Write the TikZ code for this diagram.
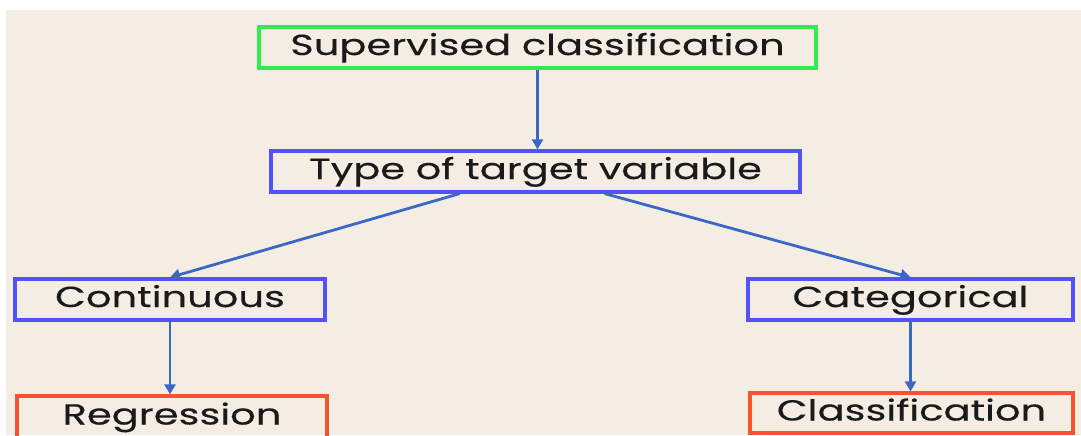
\documentclass[tikz,border=0pt]{standalone}
\usepackage{fontspec}
\setmainfont[FakeStretch=1.38,FakeBold=0.3]{Poppins}
\usetikzlibrary{arrows.meta,calc}
\definecolor{bgbeige}{HTML}{F4EDE4}
\definecolor{boxgreen}{HTML}{33EA4F}
\definecolor{boxblue}{HTML}{5252F8}
\definecolor{boxred}{HTML}{F8532F}
\definecolor{arrowblue}{HTML}{3B68C4}
\definecolor{txt}{HTML}{1A1A1A}
\tikzset{
  box/.style={draw,line width=1.6pt,text=txt,font=\fontsize{14.5}{17}\selectfont,
    minimum height=20.5pt,inner sep=0pt,text height=10.5pt,text depth=3pt},
  arr/.style={arrowblue,line width=1.4pt,-{Triangle[width=5.5pt,length=5pt]}}
}
\begin{document}
\begin{tikzpicture}[x=0.5pt,y=-0.5pt]
% page and background
\useasboundingbox (0,0) rectangle (1081,435);
\fill[white] (0,0) rectangle (1081,435);
\fill[bgbeige] (6,10) rectangle (1081,435);
% boxes
\node[box,draw=boxgreen,minimum width=278.5pt] (sup) at (537.5,47.5) {Supervised classification};
\node[box,draw=boxblue,minimum width=264.5pt] (type) at (535.5,171.5) {Type of target variable};
\node[box,draw=boxblue,minimum width=155pt] (cont) at (170,299.5) {Continuous};
\node[box,draw=boxblue,minimum width=162.5pt] (cat) at (910.5,299.5) {Categorical};
\node[box,draw=boxred,minimum width=155pt,minimum height=21pt] (reg) at (172,417) {Regression};
\node[box,draw=boxred,minimum width=161.5pt,minimum height=20pt] (cls) at (911.5,413) {Classification};
% arrows
\draw[arr] (sup.south) -- (sup.south |- type.north);
\draw[arr] ($(type.south)!0.285!(type.south west)$) -- (cont.north);
\draw[arr] ($(type.south)!0.26!(type.south east)$) -- (cat.north);
\draw[arr] (cont.south) -- (cont.south |- reg.north);
\draw[arr] (cat.south) -- (cat.south |- cls.north);
\end{tikzpicture}
\end{document}
